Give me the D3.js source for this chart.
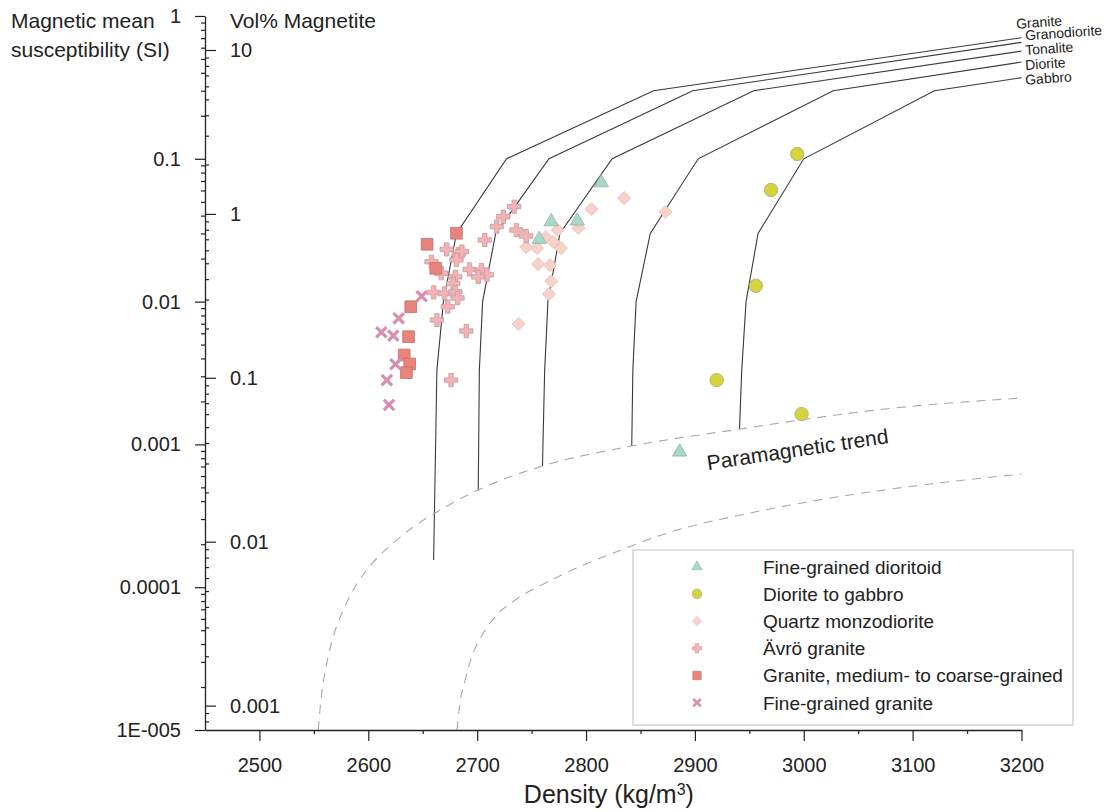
<!DOCTYPE html>
<html>
<head>
<meta charset="utf-8">
<script src="https://cdn.jsdelivr.net/npm/d3@7"></script>
<style>
  html, body { margin: 0; padding: 0; background: #fff; }
  svg { display: block; font-family: "Liberation Sans", Arial, Helvetica, sans-serif; }
</style>
</head>
<body>
<svg id="chart" width="1106" height="812"></svg>
<script>
// ---- axis ticks ----
const densityTicks = [2500, 2600, 2700, 2800, 2900, 3000, 3100, 3200];
const densityMinorTicks = [2550, 2650, 2750, 2850, 2950, 3050, 3150];
const siTicks = [1, 0.1, 0.01, 0.001, 0.0001, 0.00001];
const siTickLabels = ["1", "0.1", "0.01", "0.001", "0.0001", "1E-005"];
const volTicks = [10, 1, 0.1, 0.01, 0.001];
const volTickLabels = ["10", "1", "0.1", "0.01", "0.001"];

// ---- rock-type magnetite curves (density kg/m3, susceptibility SI) ----
const rockNames = ["Granite", "Granodiorite", "Tonalite", "Diorite", "Gabbro"];
const graniteDensity      = [2660, 2663, 2669, 2681, 2727, 2862, 3200];
const graniteSusc         = [0.000155, 0.0033, 0.01, 0.03, 0.1, 0.3, 0.705];
const granodioriteDensity = [2701, 2702, 2705, 2717, 2766, 2898, 3200];
const granodioriteSusc    = [0.00048, 0.0033, 0.01, 0.03, 0.1, 0.3, 0.654];
const tonaliteDensity     = [2760, 2762, 2765, 2776, 2824, 2954, 3200];
const tonaliteSusc        = [0.000706, 0.0033, 0.01, 0.03, 0.1, 0.3, 0.568];
const dioriteDensity      = [2842, 2843, 2846, 2859, 2903, 3027, 3200];
const dioriteSusc         = [0.000975, 0.0033, 0.01, 0.03, 0.1, 0.3, 0.476];
const gabbroDensity       = [2941, 2943, 2947, 2958, 3000, 3120, 3200];
const gabbroSusc          = [0.00128, 0.0033, 0.01, 0.03, 0.1, 0.3, 0.370];

// ---- paramagnetic trend envelope ----
const paraUpperDensity = [2554, 2556.5, 2561, 2567.5, 2577, 2589, 2604, 2623, 2640, 2660, 2701, 2760, 2842, 2941, 2996, 3075, 3200];
const paraUpperSusc    = [1e-5, 1.62e-5, 2.72e-5, 4.41e-5, 6.92e-5, 1.04e-4, 1.48e-4, 2.04e-4, 2.60e-4, 3.26e-4, 4.80e-4, 7.06e-4, 9.75e-4, 1.28e-3, 1.48e-3, 1.77e-3, 2.11e-3];
const paraLowerDensity = [2681.5, 2684, 2689, 2695, 2704, 2717, 2735, 2767, 2794, 2827, 2875, 2955, 3036, 3116, 3200];
const paraLowerSusc    = [1e-5, 1.50e-5, 2.24e-5, 3.25e-5, 4.55e-5, 6.29e-5, 8.13e-5, 1.11e-4, 1.39e-4, 1.76e-4, 2.40e-4, 3.36e-4, 4.35e-4, 5.28e-4, 6.20e-4];

// ---- measured samples ----
const dioritoidDensity = [2814, 2768, 2792, 2757, 2886];
const dioritoidSusc    = [0.0680, 0.0363, 0.0367, 0.0273, 0.000885];

const gabbroSampleDensity = [2994, 2970, 2956, 2920, 2998];
const gabbroSampleSusc    = [0.108, 0.0605, 0.0129, 0.00282, 0.00163];

const qmdDensity = [2835, 2873, 2805, 2793, 2774, 2763, 2770, 2777, 2755, 2745, 2756, 2767, 2768, 2766, 2738];
const qmdSusc    = [0.0531, 0.0424, 0.0445, 0.0328, 0.0317, 0.0283, 0.0261, 0.0237, 0.0237, 0.0241, 0.0183, 0.0180, 0.0139, 0.0113, 0.00697];

const avroDensity = [2734, 2724, 2718, 2736, 2745, 2707, 2672, 2683, 2686, 2681, 2658, 2693, 2704, 2709, 2701, 2667, 2680, 2678, 2660, 2670, 2680, 2682, 2673, 2663, 2690, 2676];
const avroSusc    = [0.0462, 0.0393, 0.0335, 0.0317, 0.0288, 0.0270, 0.0232, 0.0215, 0.0224, 0.0196, 0.0190, 0.0168, 0.0166, 0.0154, 0.0149, 0.0158, 0.0149, 0.0134, 0.0116, 0.0114, 0.0117, 0.0106, 0.00921, 0.00743, 0.00622, 0.00282];

const coarseGraniteDensity = [2681, 2654, 2662, 2639, 2637, 2633, 2638, 2635];
const coarseGraniteSusc    = [0.0301, 0.0252, 0.0171, 0.00921, 0.00568, 0.00423, 0.00366, 0.00318];

const fineGraniteDensity = [2649, 2628, 2612, 2623, 2625, 2617, 2619];
const fineGraniteSusc    = [0.0109, 0.00764, 0.00610, 0.00577, 0.00364, 0.00282, 0.00189];

const legendLabels = ["Fine-grained dioritoid", "Diorite to gabbro", "Quartz monzodiorite",
                      "Ävrö granite", "Granite, medium- to coarse-grained", "Fine-grained granite"];

// ---- scales ----
const svg = d3.select("#chart");
const x = d3.scaleLinear().domain([2450, 3200]).range([205, 1021.5]);
const y = d3.scaleLog().domain([1e-5, 1]).range([730, 16]);
const yVol = d3.scaleLog().domain([0.001, 10]).range([705.6, 50]);

const ink = "#222";
const zip = (a, b) => a.map((v, i) => [v, b[i]]);

// ---- rock curves ----
const rockSeries = [
  zip(graniteDensity, graniteSusc),
  zip(granodioriteDensity, granodioriteSusc),
  zip(tonaliteDensity, tonaliteSusc),
  zip(dioriteDensity, dioriteSusc),
  zip(gabbroDensity, gabbroSusc)
];
const lineGen = d3.line().x(d => x(d[0])).y(d => y(d[1]));
svg.append("g").selectAll("path").data(rockSeries).join("path")
  .attr("d", lineGen).attr("fill", "none").attr("stroke", "#3a3a3a").attr("stroke-width", 1.1);

// label offsets relative to each curve's end point
const rockLabelOffsets = [[-5, -9], [4, -2], [4, 4], [4, 8], [4, 7]];
svg.append("g").selectAll("text").data(rockSeries).join("text")
  .attr("transform", (d, i) => {
    const e = d[d.length - 1];
    return `translate(${x(e[0]) + rockLabelOffsets[i][0]},${y(e[1]) + rockLabelOffsets[i][1]}) rotate(-4)`;
  })
  .attr("font-size", 14).attr("fill", ink)
  .text((d, i) => rockNames[i]);

// ---- paramagnetic envelope ----
const dashGen = d3.line().x(d => x(d[0])).y(d => y(d[1])).curve(d3.curveMonotoneX);
svg.append("g").selectAll("path")
  .data([zip(paraUpperDensity, paraUpperSusc), zip(paraLowerDensity, paraLowerSusc)])
  .join("path").attr("d", dashGen).attr("fill", "none")
  .attr("stroke", "#a8a8a8").attr("stroke-width", 1.1).attr("stroke-dasharray", "9,7");

svg.append("text")
  .attr("transform", `translate(${x(2912)},${y(6.6e-4)}) rotate(-8.5)`)
  .attr("font-size", 21).attr("fill", ink).text("Paramagnetic trend");

// ---- markers ----
const styles = [
  { shape: "triangle", fill: "#a9d7c9", stroke: "#8fb3a8" },
  { shape: "circle",   fill: "#d5d43c", stroke: "#a5a57a" },
  { shape: "diamond",  fill: "#f8d1ca", stroke: "#e9bdb5" },
  { shape: "plus",     fill: "#f3b3b6", stroke: "#c79a9c" },
  { shape: "square",   fill: "#e8847b", stroke: "#c76d66" },
  { shape: "x",        fill: "none",    stroke: "#d78fb1" }
];
function markerPath(shape, s) {
  switch (shape) {
    case "triangle": return d3.symbol(d3.symbolTriangle, 88 * s * s)();
    case "circle":   return d3.symbol(d3.symbolCircle, 140 * s * s)();
    case "diamond":  { const r = 6.6 * s; return `M0,${-r}L${r},0L0,${r}L${-r},0Z`; }
    case "plus":     return d3.symbol(d3.symbolCross, 98 * s * s)();
    case "square":   return d3.symbol(d3.symbolSquare, 136 * s * s)();
    case "x":        { const r = 5.2 * s; return `M${-r},${-r}L${r},${r}M${r},${-r}L${-r},${r}`; }
  }
}
function drawMarkers(g, data, st, s) {
  g.selectAll("path").data(data).join("path")
    .attr("transform", d => `translate(${x(d[0])},${y(d[1])})`)
    .attr("d", markerPath(st.shape, s))
    .attr("fill", st.fill)
    .attr("stroke", st.stroke)
    .attr("stroke-width", st.shape === "x" ? 3.2 * s : 0.8);
}
const sampleSets = [
  zip(dioritoidDensity, dioritoidSusc),
  zip(gabbroSampleDensity, gabbroSampleSusc),
  zip(qmdDensity, qmdSusc),
  zip(avroDensity, avroSusc),
  zip(coarseGraniteDensity, coarseGraniteSusc),
  zip(fineGraniteDensity, fineGraniteSusc)
];
[2, 0, 1, 3, 4, 5].forEach(i => drawMarkers(svg.append("g"), sampleSets[i], styles[i], 1));

// ---- axes ----
function styleAxis(g, fontSize) {
  g.selectAll("line").attr("stroke", ink).attr("stroke-width", 1.2);
  g.selectAll("path.domain").attr("stroke", ink).attr("stroke-width", 1.3);
  g.selectAll("text").attr("fill", ink).attr("font-size", fontSize)
    .attr("font-family", "'Liberation Sans', Arial, sans-serif");
}

// susceptibility (outer, left-pointing ticks)
const siMinor = [];
for (let e = -5; e < 0; e++) for (let m = 2; m <= 9; m++) siMinor.push(m * Math.pow(10, e));
const gSI = svg.append("g").attr("transform", "translate(205,0)")
  .call(d3.axisLeft(y).tickValues(siTicks).tickFormat((d, i) => siTickLabels[i])
    .tickSize(10).tickPadding(14).tickSizeOuter(0));
styleAxis(gSI, 20);
const gSIm = svg.append("g").attr("transform", "translate(205,0)")
  .call(d3.axisLeft(y).tickValues(siMinor).tickFormat("").tickSize(4));
gSIm.select(".domain").remove();
styleAxis(gSIm, 20);

// magnetite volume (inner, right-pointing ticks)
const volLo = yVol.invert(730), volHi = yVol.invert(16);
const volMinor = [];
for (let e = -4; e <= 1; e++) for (let m = 2; m <= 9; m++) {
  const v = m * Math.pow(10, e);
  if (v > volLo && v < volHi) volMinor.push(v);
}
const gVol = svg.append("g").attr("transform", "translate(205,0)")
  .call(d3.axisRight(yVol).tickValues(volTicks).tickFormat((d, i) => volTickLabels[i])
    .tickSize(11).tickPadding(14));
gVol.select(".domain").remove();
styleAxis(gVol, 20);
const gVolm = svg.append("g").attr("transform", "translate(205,0)")
  .call(d3.axisRight(yVol).tickValues(volMinor).tickFormat("").tickSize(4));
gVolm.select(".domain").remove();
styleAxis(gVolm, 20);

// density
const gX = svg.append("g").attr("transform", "translate(0,730)")
  .call(d3.axisBottom(x).tickValues(densityTicks).tickFormat(d3.format("d"))
    .tickSize(11).tickPadding(17).tickSizeOuter(0));
styleAxis(gX, 20);
const gXm = svg.append("g").attr("transform", "translate(0,730)")
  .call(d3.axisBottom(x).tickValues(densityMinorTicks).tickFormat("").tickSize(4));
gXm.select(".domain").remove();
styleAxis(gXm, 20);

// ---- titles ----
const titles = svg.append("g").attr("fill", ink).attr("font-size", 21);
titles.append("text").attr("x", 11).attr("y", 28).text("Magnetic mean");
titles.append("text").attr("x", 11).attr("y", 57).text("susceptibility (SI)");
titles.append("text").attr("x", 230).attr("y", 28).text("Vol% Magnetite");
const xt = titles.append("text").attr("x", x(2821)).attr("y", 803)
  .attr("text-anchor", "middle").attr("font-size", 25);
xt.append("tspan").text("Density (kg/m");
xt.append("tspan").attr("font-size", 16).attr("dy", -8).text("3");
xt.append("tspan").attr("dy", 8).text(")");

// ---- legend ----
const legend = svg.append("g");
legend.append("rect").attr("x", 633).attr("y", 550).attr("width", 440).attr("height", 175)
  .attr("fill", "#fff").attr("stroke", "#c9c9c9").attr("stroke-width", 1.2);
legendLabels.forEach((label, i) => {
  const cy = 566.7 + i * 27.2;
  const g = legend.append("g");
  g.append("path").attr("transform", `translate(697,${cy})`)
    .attr("d", markerPath(styles[i].shape, 0.72))
    .attr("fill", styles[i].fill).attr("stroke", styles[i].stroke)
    .attr("stroke-width", styles[i].shape === "x" ? 2.6 : 0.6);
  g.append("text").attr("x", 763).attr("y", cy).attr("dy", "0.36em")
    .attr("font-size", 19).attr("fill", ink).text(label);
});
</script>
</body>
</html>
